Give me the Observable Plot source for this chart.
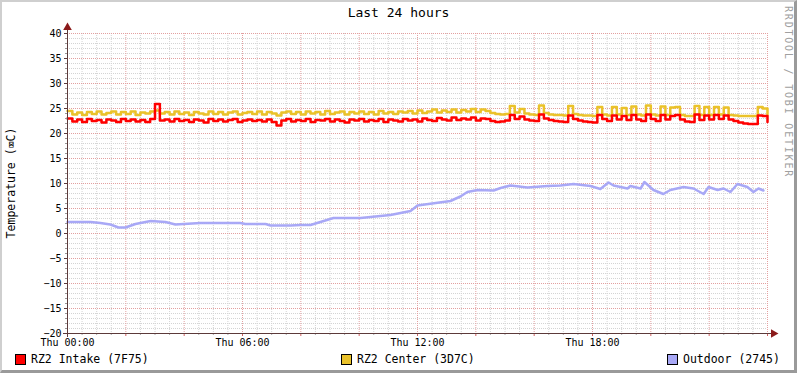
<!DOCTYPE html>
<html><head><meta charset="utf-8">
<script src="https://cdn.jsdelivr.net/npm/d3@7"></script>
<script src="https://cdn.jsdelivr.net/npm/@observablehq/plot@0.6"></script>
<style>
body{margin:0;background:#fff;}
#wrap{position:relative;width:797px;height:373px;overflow:hidden;font-family:"DejaVu Sans Mono",monospace;background:#fff;color:#000;}
#wrap svg{position:absolute;left:0;top:0;}
.frame{position:absolute;left:0;top:0;width:797px;height:373px;box-sizing:border-box;border-top:2px solid #cfcfcf;border-left:2px solid #cfcfcf;border-right:3px solid #9a9a9a;border-bottom:3px solid #9a9a9a;pointer-events:none;}
.title{position:absolute;top:5px;left:0;width:797px;text-align:center;font-size:13px;}
.ylabel{position:absolute;left:11px;top:183px;transform:translate(-50%,-50%) rotate(-90deg);white-space:nowrap;font-size:11.5px;}
.wm{position:absolute;left:783px;top:6px;writing-mode:vertical-rl;font-size:10px;letter-spacing:1.8px;color:#a0a0a0;}
.leg{position:absolute;top:352px;font-size:11.5px;display:flex;align-items:center;white-space:nowrap;}
.sw{width:9px;height:9px;border:1px solid #000;margin-right:5px;}
</style>
</head><body>
<div id="wrap"></div>
<script>
const titleText = "Last 24 hours";
const yLabelText = "Temperature (\u2327C)";
const watermark = "RRDTOOL / TOBI OETIKER";
const seriesNames = ["RZ2 Intake (7F75)", "RZ2 Center (3D7C)", "Outdoor (2745)"];
const seriesColors = ["#ff0000", "#eac22a", "#a8a8f6"];
const xDomain = [0, 24];
const yDomain = [-20, 40];
const xLabelTicks = [0, 6, 12, 18];
const xLabelDay = "Thu";

// indoor sensors sampled every 10 minutes (hours 0..24)
const intake = [
 23.0,22.4,22.8,22.3,22.9,22.5,22.7,22.2,22.8,22.6,
 22.3,22.9,22.5,22.8,22.4,22.7,22.3,22.9,25.9,22.6,
 22.8,22.4,22.9,22.5,22.7,22.3,22.8,22.6,22.2,22.9,
 22.5,22.8,22.4,22.7,22.9,22.3,22.6,22.8,22.5,22.7,
 22.4,22.8,22.3,21.6,22.6,22.9,22.4,22.7,22.5,22.9,
 22.3,22.7,22.6,22.9,22.4,22.8,22.5,22.2,22.8,22.6,
 22.9,22.4,22.7,22.5,22.9,22.3,22.8,22.6,22.4,22.9,
 22.6,22.8,22.4,23.0,22.7,22.5,23.1,22.8,22.6,23.2,
 22.7,23.0,22.8,23.2,22.6,23.0,22.9,22.5,22.3,22.4,
 22.6,23.7,22.9,23.4,22.8,22.6,22.5,23.8,23.0,22.7,
 22.5,22.4,22.3,23.6,22.9,22.6,22.4,22.3,22.2,23.7,
 22.9,22.5,23.6,22.8,23.5,22.7,23.7,22.8,22.5,23.8,
 22.9,22.5,23.7,22.8,23.5,23.7,22.8,22.4,22.3,23.8,
 22.7,23.6,22.8,23.7,22.9,23.6,22.8,22.5,22.2,22.0,
 21.9,21.9,23.6,23.5,22.3
];
const center = [
 24.5,23.8,24.2,23.7,24.3,23.9,24.4,23.8,24.1,24.4,
 23.8,24.3,23.9,24.4,23.7,24.2,24.0,24.4,24.6,24.0,
 24.3,23.8,24.4,23.9,24.2,23.7,24.3,24.0,23.8,24.4,
 23.9,24.3,23.8,24.2,24.4,23.8,24.1,24.3,23.9,24.4,
 23.8,24.3,24.0,23.6,24.2,24.4,23.9,24.3,23.8,24.4,
 24.0,24.3,23.8,24.5,23.9,24.2,24.4,23.8,24.3,24.0,
 24.4,23.9,24.3,23.8,24.5,24.0,24.3,23.9,24.4,24.2,
 24.5,24.0,24.6,24.1,24.4,24.8,24.2,24.6,24.3,24.8,
 24.2,24.7,24.4,24.9,24.3,24.8,24.5,24.1,23.9,23.8,
 23.9,25.5,24.2,24.9,24.0,23.8,23.7,25.6,24.1,23.8,
 23.7,23.7,23.6,25.5,23.9,23.7,23.6,23.6,23.5,25.3,
 23.8,23.6,25.3,23.8,25.1,23.7,25.4,23.8,23.6,25.6,
 23.8,23.6,25.4,23.7,25.2,25.3,23.7,23.5,23.5,25.5,
 23.7,25.3,23.7,25.3,23.8,25.2,23.7,23.6,23.5,23.5,
 23.5,23.5,25.3,25.0,23.7
];
// outdoor sensor: hours and values
const outdoorHours = [0,0.79,1.13,1.47,1.75,1.99,2.33,2.85,3.36,3.70,4.56,5.93,6.10,6.79,6.96,7.65,7.99,8.33,8.67,9.12,10.05,10.39,11.07,11.42,11.76,12.0,13.13,13.47,13.71,14.06,14.61,14.85,15.19,15.77,16.46,16.90,17.35,17.93,18.27,18.55,18.72,19.20,19.30,19.65,19.78,20.09,20.43,20.67,21.12,21.46,21.81,21.98,22.29,22.49,22.73,22.97,23.31,23.52,23.69,23.86];
const outdoorTemps = [2.3,2.3,2.1,1.8,1.2,1.2,1.9,2.5,2.3,1.8,2.1,2.1,1.9,1.9,1.6,1.6,1.7,1.7,2.3,3.1,3.1,3.3,3.7,4.1,4.5,5.6,6.5,7.4,8.3,8.7,8.6,9.1,9.6,9.2,9.5,9.6,9.9,9.5,8.9,10.2,9.6,9.0,9.5,9.0,10.3,8.7,7.9,8.7,9.3,9.0,7.9,9.3,8.7,9.0,8.3,9.9,9.3,8.3,9.0,8.6];

const sampleHours = intake.map((_, i) => i / 6);
const intakeData = intake.map((v, i) => ({h: sampleHours[i], v}));
const centerData = center.map((v, i) => ({h: sampleHours[i], v}));
const outdoorData = outdoorTemps.map((v, i) => ({h: outdoorHours[i], v}));

const yMajor = d3.range(yDomain[0], yDomain[1] + 1, 5);
const yMinor = d3.range(yDomain[0], yDomain[1] + 1, 1).filter(v => v % 5 !== 0);
const xMajor = d3.range(xDomain[0], xDomain[1] + 0.01, 2);
const xMinor = d3.range(xDomain[0], xDomain[1] + 0.01, 0.5).filter(v => v % 2 !== 0);

const axisColor = "#5c3a3a";
const arrowColor = "#8b1a1a";
const majorGrid = "#e3a0a0";
const minorGrid = "#d4d4d4";

const chart = Plot.plot({
  width: 797, height: 373,
  marginLeft: 67, marginRight: 30, marginTop: 33, marginBottom: 40,
  style: {fontFamily: "DejaVu Sans Mono", fontSize: "10px", background: "transparent", color: "#000"},
  x: {domain: xDomain},
  y: {domain: yDomain},
  marks: [
    Plot.ruleY(yMinor, {stroke: minorGrid, strokeDasharray: "1,1"}),
    Plot.ruleX(xMinor, {stroke: minorGrid, strokeDasharray: "1,1"}),
    Plot.ruleY(yMajor.filter(v => v > yDomain[0]), {stroke: majorGrid, strokeDasharray: "1,1"}),
    Plot.ruleX(xMajor.filter(v => v > xDomain[0]), {stroke: majorGrid, strokeDasharray: "1,1"}),
    Plot.line(centerData, {x: "h", y: "v", stroke: seriesColors[1], strokeWidth: 2.5, curve: "step-after"}),
    Plot.line(intakeData, {x: "h", y: "v", stroke: seriesColors[0], strokeWidth: 2.5, curve: "step-after"}),
    Plot.line(outdoorData, {x: "h", y: "v", stroke: seriesColors[2], strokeWidth: 2.5}),
    Plot.axisY({ticks: yMajor, tickSize: 3, tickPadding: 3, stroke: axisColor, fill: "#000"}),
    Plot.axisY({ticks: yMinor, tickSize: 2, tickFormat: () => "", stroke: "#999"}),
    Plot.axisX({ticks: xMajor, tickSize: 3, tickFormat: () => "", stroke: "#d06060"}),
    Plot.axisX({ticks: xMinor, tickSize: 2, tickFormat: () => "", stroke: "#aaa"}),
    Plot.axisX({ticks: xLabelTicks, tickSize: 0, tickPadding: 5, fill: "#000",
      tickFormat: h => `${xLabelDay} ${String(h).padStart(2, "0")}:00`}),
    Plot.ruleY([yDomain[0]], {stroke: axisColor, insetLeft: -4, insetRight: -5}),
    Plot.ruleX([xDomain[0]], {stroke: axisColor, insetBottom: -4, insetTop: -5}),
    Plot.dot([{x: xDomain[1], y: yDomain[0]}], {x: "x", y: "y", symbol: "triangle", r: 3.2, fill: arrowColor, stroke: null, rotate: 90, dx: 6}),
    Plot.dot([{x: xDomain[0], y: yDomain[1]}], {x: "x", y: "y", symbol: "triangle", r: 3.2, fill: arrowColor, stroke: null, dy: -6})
  ]
});

const wrap = document.getElementById("wrap");
wrap.appendChild(chart);
const add = (cls, text, style) => { const d = document.createElement("div"); d.className = cls; if (text != null) d.textContent = text; if (style) Object.assign(d.style, style); wrap.appendChild(d); return d; };
add("title", titleText);
add("ylabel", yLabelText);
add("wm", watermark);
const legendLefts = [15, 341, 667];
seriesNames.forEach((name, i) => {
  const item = add("leg", null, {left: legendLefts[i] + "px"});
  const sw = document.createElement("div"); sw.className = "sw"; sw.style.background = seriesColors[i];
  const t = document.createElement("span"); t.textContent = name;
  item.appendChild(sw); item.appendChild(t);
});
add("frame");
</script>
</body></html>
